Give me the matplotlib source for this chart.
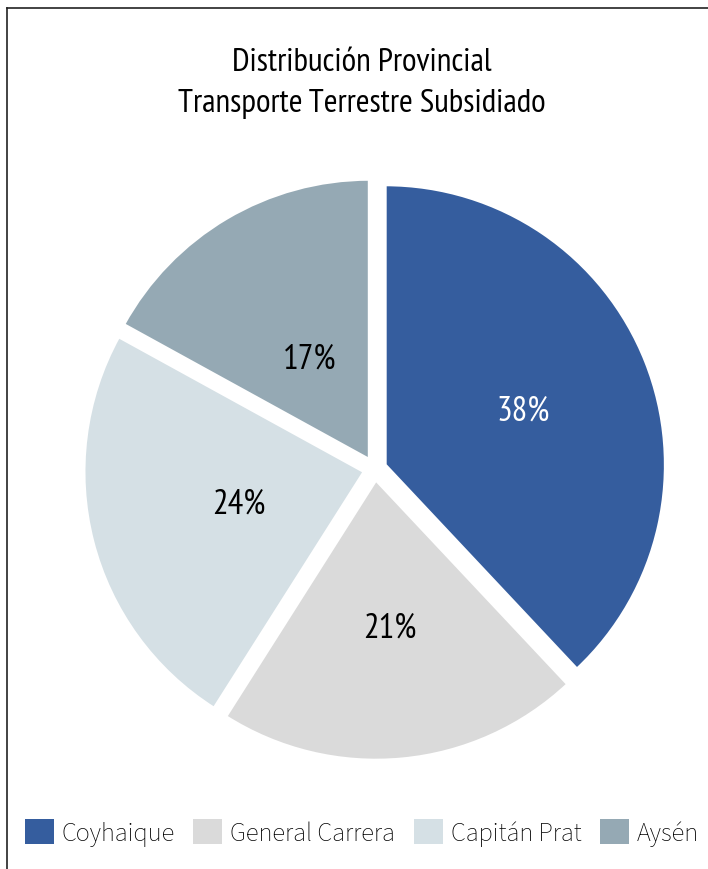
import numpy as np
import matplotlib.pyplot as plt
from matplotlib.lines import Line2D
from matplotlib.patches import Patch

# Distribución provincial - transporte terrestre subsidiado
provincias = ["Coyhaique", "General Carrera", "Capitán Prat", "Aysén"]
porcentajes = [38, 21, 24, 17]
colores = ["#355d9e", "#dadada", "#d5e0e5", "#95a9b4"]
color_texto = ["white", "black", "black", "black"]
dist_etiqueta = [0.53, 0.53, 0.46, 0.42]

fuente_titulo = ["PT Sans Narrow", "DejaVu Sans"]
fuente_leyenda = ["Source Sans 3", "DejaVu Sans"]

fig = plt.figure(figsize=(7.08, 8.7), dpi=100)

ax = fig.add_axes([0.055, 0.0736, 0.949, 0.7724])
wedges, texts, autotexts = ax.pie(
    porcentajes, colors=colores, startangle=90, counterclock=False,
    explode=[0.04] * len(porcentajes), autopct="%d%%",
    wedgeprops=dict(edgecolor="white", linewidth=2),
    textprops=dict(fontsize=25, family=fuente_titulo))
# etiquetas a distancia propia de cada porción
for w, t, c, d in zip(wedges, autotexts, color_texto, dist_etiqueta):
    ang = np.deg2rad((w.theta1 + w.theta2) / 2)
    cx, cy = w.center
    t.set_position((cx + d * w.r * np.cos(ang), cy + d * w.r * np.sin(ang)))
    t.set_color(c)
ax.set_xlim(-1.2, 1.2)
ax.set_ylim(-1.2, 1.2)

fig.text(0.511, 0.904, "Distribución Provincial\nTransporte Terrestre Subsidiado",
         ha="center", va="center", fontsize=24, family=fuente_titulo,
         linespacing=1.45)

# marco superior e izquierdo
fig.add_artist(Line2D([7 / 708, 7 / 708], [0, 1 - 9 / 870], color="#222222", lw=1.2))
fig.add_artist(Line2D([7 / 708, 1], [1 - 9 / 870, 1 - 9 / 870], color="#222222", lw=1.2))

handles = [Patch(facecolor=c, edgecolor="none") for c in colores]
fig.legend(handles, provincias, loc="center", bbox_to_anchor=(0.511, 0.042),
           ncol=4, frameon=False, handlelength=1.1, handleheight=1.1,
           handletextpad=0.3, columnspacing=0.7, borderpad=0,
           prop=dict(family=fuente_leyenda, size=19, weight="light"))

fig.savefig("out.png", dpi=100)
